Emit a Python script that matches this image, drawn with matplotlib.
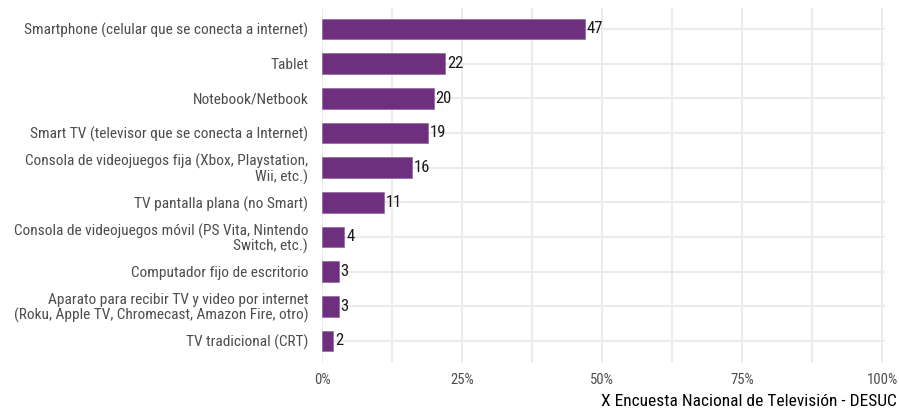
import matplotlib
matplotlib.use("Agg")
import matplotlib.pyplot as plt
from matplotlib import font_manager
from matplotlib.ticker import MultipleLocator, FuncFormatter

# Data
categorias = [
    "Smartphone (celular que se conecta a internet)",
    "Tablet",
    "Notebook/Netbook",
    "Smart TV (televisor que se conecta a Internet)",
    "Consola de videojuegos fija (Xbox, Playstation,\nWii, etc.)",
    "TV pantalla plana (no Smart)",
    "Consola de videojuegos móvil (PS Vita, Nintendo\nSwitch, etc.)",
    "Computador fijo de escritorio",
    "Aparato para recibir TV y video por internet\n(Roku, Apple TV, Chromecast, Amazon Fire, otro)",
    "TV tradicional (CRT)",
]
porcentajes = [47, 22, 20, 19, 16, 11, 4, 3, 3, 2]
caption = "X Encuesta Nacional de Televisión - DESUC"


def pick_font(names):
    for n in names:
        try:
            font_manager.findfont(n, fallback_to_default=False)
            return n
        except Exception:
            continue
    return "DejaVu Sans"


font = pick_font(["Roboto Condensed", "Liberation Sans Narrow", "Roboto"])
plt.rcParams["font.family"] = [font, "DejaVu Sans"]

BAR = "#6E2F7E"
GRID = "#EBEBEB"

fig = plt.figure(figsize=(8.99, 4.16), dpi=100, facecolor="white")
ax = fig.add_axes([0.3582, 0.1303, 0.6262, 0.8500])

y = list(range(len(categorias)))
ax.barh(y, porcentajes, height=0.6, color=BAR, edgecolor="#8A5A98",
        linewidth=0.4, zorder=3)

for yi, v in zip(y, porcentajes):
    ax.text(v + 0.3, yi, str(v), va="center", ha="left", fontsize=12,
            color="#1a1a1a", zorder=4)

ax.set_xlim(0, 100.5)
ax.set_ylim(len(categorias) - 0.4, -0.6)
ax.set_yticks(y)
ax.set_yticklabels(categorias, fontsize=11.1, color="#4D4D4D", linespacing=1.0)

ax.xaxis.set_major_locator(MultipleLocator(25))
ax.xaxis.set_minor_locator(MultipleLocator(12.5))
ax.xaxis.set_major_formatter(FuncFormatter(lambda v, p: f"{int(v)}%"))
ax.tick_params(axis="x", labelsize=10.5, labelcolor="#4D4D4D", length=0,
               which="both", pad=8)
ax.tick_params(axis="y", length=0, pad=10)

ax.grid(True, axis="x", which="major", color=GRID, linewidth=1.5, zorder=0)
ax.grid(True, axis="x", which="minor", color=GRID, linewidth=1.5, zorder=0)
ax.grid(True, axis="y", which="major", color=GRID, linewidth=1.5, zorder=0)

for s in ax.spines.values():
    s.set_visible(False)

fig.text(0.998, 0.036, caption, ha="right", va="center", fontsize=12.5,
         color="black")

fig.savefig("out.png", dpi=100, facecolor="white")
